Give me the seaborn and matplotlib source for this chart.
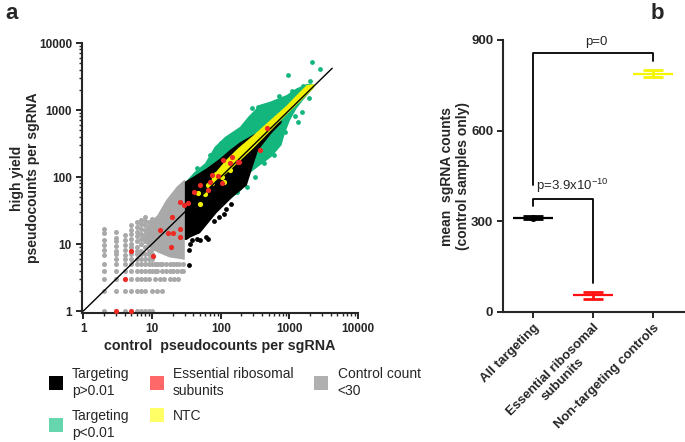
import numpy as np
import matplotlib
matplotlib.use("Agg")
import matplotlib.pyplot as plt
from matplotlib.lines import Line2D
from matplotlib.ticker import LogLocator, NullFormatter, FixedLocator, FixedFormatter
import seaborn as sns

# ---------------- panel a: control vs high yield pseudocounts ----------------
# outlines of the dense clouds (control x, high yield y)
green_cloud_x = [32, 42, 59, 82, 116, 191, 252, 373, 522, 700, 912, 1277, 1800, 2250,
                 2300, 1590, 1277, 1020, 860, 770, 550, 350, 252, 202, 150, 129, 60]
green_cloud_y = [88, 120, 160, 283, 398, 560, 794, 1200, 1330, 1500, 1675, 2110, 2450, 2400,
                 2200, 1410, 1060, 700, 450, 300, 200, 142, 110, 64, 50, 45, 60]

black_cloud_x = [30, 30, 40, 62, 98, 136, 191, 300, 550, 770,
                 770, 550, 350, 282, 240, 152, 87, 50, 36, 32]
black_cloud_y = [11.5, 85, 101, 134, 189, 253, 330, 430, 560, 700,
                 640, 450, 250, 127, 75, 51, 29, 14.5, 12.5, 11.5]

yellow_cloud_x = [74, 120, 180, 300, 522, 900, 1300, 1790, 2300,
                  2300, 1500, 900, 522, 300, 180, 120, 74]
yellow_cloud_y = [100, 180, 270, 420, 700, 1150, 1700, 2360, 2420,
                  2150, 1400, 850, 480, 270, 165, 112, 78]

gray_cloud_x = [7, 9, 12, 16, 23, 30, 30, 25, 18, 12, 9]
gray_cloud_y = [12, 20, 27, 45, 72, 92, 5.8, 6, 6.3, 7.5, 9]

# sparse gray points: discrete rows at low counts, then columns
gray_rows = [1, 2, 3, 4, 5]
gray_row_x = [[2, 4, 6, 7, 8, 9, 10],
              [2, 3, 4, 5, 6, 7, 8, 10, 12, 14],
              [2, 3, 5, 6, 7, 8, 9, 11, 13, 15, 18, 21, 24],
              [2, 3, 4, 5, 6, 7, 8, 9, 10, 11, 12, 14, 16, 18, 20, 23, 26, 28],
              [2, 3, 4, 5, 6, 7, 8, 9, 10, 11, 12, 13, 14, 16, 18, 20, 22, 25, 28]]
gray_cols = [2, 3, 4, 5, 6, 7, 8, 9, 10]
gray_col_y = [[6.9, 8.1, 9.6, 11.5, 14.5, 17],
              [6, 7, 8, 9.5, 11, 12.5, 15],
              [6, 6.9, 8.1, 9.6, 11.5, 13.6],
              [6, 7, 8, 9, 10, 12, 14, 16, 19],
              [6, 7, 8, 9, 11, 13, 15, 18, 21],
              [6, 7, 8, 10, 12, 14, 17, 20, 23],
              [6, 7, 9, 11, 13, 16, 19, 22, 25],
              [6, 7, 8, 10, 12, 15, 18, 21],
              [6, 7, 8.5, 10, 13, 16, 20, 24]]

green_x = [2110, 2790, 945, 617, 352, 282, 1500, 1350, 860, 617, 316, 239, 171, 129,
           1100, 700, 450, 160, 100, 70, 45, 1600, 2000, 420, 600, 1200, 1900]
green_y = [5150, 4090, 3330, 1330, 1120, 1060, 944, 670, 475, 335, 101, 72, 60, 51,
           1900, 1600, 1150, 460, 320, 210, 135, 2300, 2700, 160, 215, 800, 1500]

black_x = [34, 66, 50, 62, 38, 45, 80, 95, 120, 34, 36, 110, 140]
black_y = [4.9, 11.8, 11.5, 12.8, 11.5, 12, 22, 25, 33, 8.1, 10, 28, 40]

yellow_x = [47, 50, 66, 75, 103, 110, 60, 136, 171, 100, 85]
yellow_y = [57, 40, 76, 82, 101, 83, 55, 127, 179, 120, 110]

red_x = [3, 5, 4, 5, 10.2, 13, 17, 20, 19, 25.5, 25.5, 19.5, 25.5, 29.5, 33.6,
         50, 92, 66, 41, 136, 186, 373, 466, 70, 103, 144, 109, 74, 180]
red_y = [1, 1, 3, 8, 6.7, 16, 14.5, 14.5, 9.1, 16.5, 12.6, 25.5, 43, 38, 41,
         76, 103, 64, 59, 160, 165, 252, 533, 85, 82, 201, 179, 107, 169]

diag = [1, 4200]

# ---------------- panel b: mean sgRNA counts ----------------
groups = ["All targeting", "Essential ribosomal\nsubunits", "Non-targeting controls"]
means = [312, 55, 788]
sems = [4, 12, 12]
group_colors = ["black", "#ff1010", "#f5f500"]

C_GREEN = "#13b67c"
C_GRAY = "#a9a9a9"
C_RED = "#ee2a24"
C_YEL = "#f0f000"

sns.set_style("ticks")
plt.rcParams["font.family"] = ["Liberation Sans", "DejaVu Sans"]
plt.rcParams["mathtext.default"] = "regular"

fig = plt.figure(figsize=(6.85, 4.42), dpi=100)

# ---- panel a ----
ax = fig.add_axes([81.7 / 685, (442 - 313) / 442, (358.1 - 81.7) / 685, (313 - 43) / 442])
ax.set_xscale("log")
ax.set_yscale("log")
ax.set_xlim(0.947, 10000)
ax.set_ylim(0.934, 10000)

ax.fill(gray_cloud_x, gray_cloud_y, color=C_GRAY, lw=0, zorder=1)
gx = [x for row, xs in zip(gray_rows, gray_row_x) for x in xs]
gy = [row for row, xs in zip(gray_rows, gray_row_x) for x in xs]
gx += [c for c, ys in zip(gray_cols, gray_col_y) for y in ys]
gy += [y for c, ys in zip(gray_cols, gray_col_y) for y in ys]
sns.scatterplot(x=gx, y=gy, color=C_GRAY, s=13, linewidth=0, ax=ax, zorder=1, clip_on=False)

ax.fill(green_cloud_x, green_cloud_y, color=C_GREEN, lw=0, zorder=2)
sns.scatterplot(x=green_x, y=green_y, color=C_GREEN, s=12, linewidth=0, ax=ax, zorder=2)
ax.fill(black_cloud_x, black_cloud_y, color="black", lw=0, zorder=3)
sns.scatterplot(x=black_x, y=black_y, color="black", s=12, linewidth=0, ax=ax, zorder=3)
ax.fill(yellow_cloud_x, yellow_cloud_y, color=C_YEL, lw=0, zorder=4)
sns.scatterplot(x=yellow_x, y=yellow_y, color=C_YEL, s=14, linewidth=0, ax=ax, zorder=4)
ax.plot(diag, diag, color="black", lw=1.0, zorder=5)
sns.scatterplot(x=red_x, y=red_y, color=C_RED, s=14, linewidth=0, ax=ax, zorder=6, clip_on=False)

ax.xaxis.set_major_locator(FixedLocator([1, 10, 100, 1000, 10000]))
ax.yaxis.set_major_locator(FixedLocator([1, 10, 100, 1000, 10000]))
ax.xaxis.set_major_formatter(FixedFormatter(["1", "10", "100", "1000", "10000"]))
ax.yaxis.set_major_formatter(FixedFormatter(["1", "10", "100", "1000", "10000"]))
ax.xaxis.set_minor_locator(LogLocator(base=10, subs=np.arange(2, 10)))
ax.yaxis.set_minor_locator(LogLocator(base=10, subs=np.arange(2, 10)))
ax.xaxis.set_minor_formatter(NullFormatter())
ax.yaxis.set_minor_formatter(NullFormatter())
ax.tick_params(which="major", direction="out", length=4, width=1.4, labelsize=8.5, pad=3)
ax.tick_params(which="minor", direction="out", length=2.5, width=1.0)
for lab in ax.get_xticklabels() + ax.get_yticklabels():
    lab.set_fontweight("bold")
for sp in ["left", "bottom"]:
    ax.spines[sp].set_linewidth(1.5)
sns.despine(ax=ax)
ax.set_xlabel("control  pseudocounts per sgRNA", fontsize=10.3, fontweight="bold", labelpad=3)
ax.set_ylabel("high yield\npseudocounts per sgRNA", fontsize=10, fontweight="bold", labelpad=-1)

handles = [Line2D([], [], marker="s", ls="", markersize=9.4, markeredgewidth=0, markerfacecolor=c)
           for c in ["black", "#66d6ae", "#ff6868", "#ffff66", "#b0b0b0"]]
labels = ["Targeting\np>0.01", "Targeting\np<0.01", "Essential ribosomal\nsubunits", "NTC",
          "Control count\n<30"]
leg = fig.legend(handles, labels, ncol=3, loc="upper left", bbox_to_anchor=(49 / 685, 1 - 367 / 442),
                 frameon=False, fontsize=10, handlelength=0.95, handletextpad=0.7,
                 columnspacing=1.5, labelspacing=0.8, borderpad=0, borderaxespad=0)
for t in leg.get_texts():
    t.set_linespacing(1.25)

# ---- panel b ----
bx = fig.add_axes([503 / 685, (442 - 312) / 442, (685 - 503) / 685, (312 - 40) / 442])
bx.set_xlim(-0.5, 2.533)
bx.set_ylim(0, 900)
pos = list(range(len(groups)))
for p, m, e, c in zip(pos, means, sems, group_colors):
    bx.hlines(m, p - 0.33, p + 0.33, color=c, lw=1.6, zorder=3)
    bx.errorbar(p, m, yerr=e, color=c, lw=2.0, capsize=7, capthick=2.0, zorder=4)
bx.plot(pos[0], means[0], "o", color="black", ms=4, zorder=5)

bx.plot([0, 0, 2, 2], [420, 857, 857, 832], color="black", lw=1.3, clip_on=False)
bx.plot([0, 0, 1, 1], [351, 374, 374, 95], color="black", lw=1.3, clip_on=False)
bx.text(1.05, 884, "p=0", ha="center", va="baseline", fontsize=9.5)
bx.text(0.05, 404, "p=3.9x10$^{-10}$", ha="left", va="baseline", fontsize=9.5)

bx.set_xticks(pos)
bx.set_xticklabels(groups, rotation=45, ha="right", rotation_mode="anchor",
                   fontweight="bold", fontsize=9.5, multialignment="center")
bx.set_yticks([0, 300, 600, 900])
bx.set_yticklabels(["0", "300", "600", "900"], fontweight="bold", fontsize=9.5)
bx.tick_params(direction="out", length=4, width=1.4, pad=3)
for sp in ["left", "bottom"]:
    bx.spines[sp].set_linewidth(1.5)
sns.despine(ax=bx)
bx.set_ylabel("mean  sgRNA counts\n(control samples only)", fontsize=10, fontweight="bold", labelpad=0.5)

fig.text(5 / 685, 1 - 3 / 442, "a", fontsize=16, fontweight="bold", va="top")
fig.text(651 / 685, 1 - 3 / 442, "b", fontsize=16, fontweight="bold", va="top")

fig.savefig("out.png", dpi=100)
plt.close(fig)
